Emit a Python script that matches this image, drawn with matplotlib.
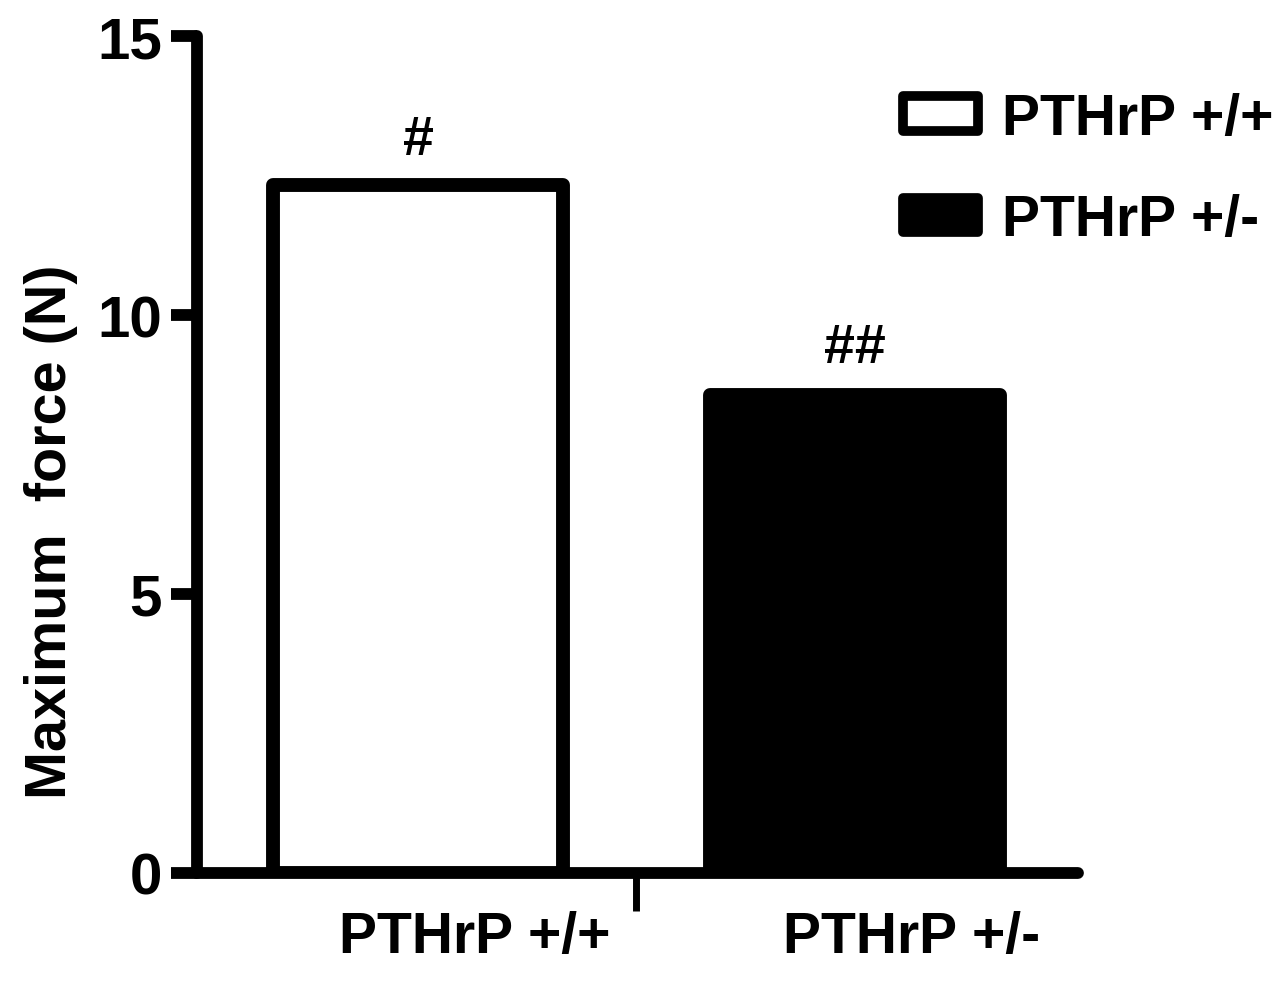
import numpy as np
import matplotlib.pyplot as plt
from matplotlib.transforms import blended_transform_factory

plt.rcParams["font.family"] = "Liberation Sans"
plt.rcParams["font.weight"] = "bold"

groups = ["PTHrP +/+", "PTHrP +/-"]
max_force = [12.33, 8.56]
marks = ["#", "##"]
fills = ["white", "black"]
y_ticks = [0, 5, 10, 15]

fig = plt.figure(figsize=(12.83, 9.87), dpi=100)
ax = fig.add_axes([0.1535, 0.1145, 0.6865, 0.848])

x = np.arange(len(groups))
bars = ax.bar(x, max_force, width=0.664, color=fills, edgecolor="black",
              linewidth=10, zorder=3, label=groups)
for b in bars:
    b.set_joinstyle("round")

# significance marks above the bars
for xi, v, m, off in zip(x, max_force, marks, [22, 24]):
    ax.annotate(m, (xi, v), xytext=(0, off), textcoords="offset points",
                ha="center", va="baseline", fontsize=40, fontweight="bold")

ax.set_xlim(-0.506, 1.51)
ax.set_ylim(0, 15)
ax.set_yticks(y_ticks)
ax.set_xticks([0.5])
ax.set_xticklabels([""])

for s in ["top", "right"]:
    ax.spines[s].set_visible(False)
for s in ["left", "bottom"]:
    ax.spines[s].set_linewidth(8.5)
    ax.spines[s].set_capstyle("round")

ax.tick_params(axis="y", length=19, width=8.5, labelsize=42, pad=6)
ax.tick_params(axis="x", length=27, width=5)
for t in ax.yaxis.get_major_ticks() + ax.xaxis.get_major_ticks():
    t.tick1line.set_solid_capstyle("round")

trans = blended_transform_factory(ax.transData, ax.transAxes)
for xi, g in zip(x, groups):
    ax.text(xi + 0.13, -0.076, g, transform=trans, ha="center", va="center",
            fontsize=41, fontweight="bold")

ax.set_ylabel("Maximum  force (N)", fontsize=41.5, fontweight="bold")
ax.yaxis.set_label_coords(-0.135, 0.409)

leg = fig.legend(bars, groups, loc="upper left", bbox_to_anchor=(0.7035, 0.906),
                 frameon=False, fontsize=41, handlelength=1.33, handleheight=0.55,
                 handletextpad=0.42, labelspacing=0.83, borderpad=0,
                 borderaxespad=0)
for p in leg.get_patches():
    p.set_linewidth(7)
    p.set_joinstyle("round")

fig.savefig("out.png", dpi=100)
